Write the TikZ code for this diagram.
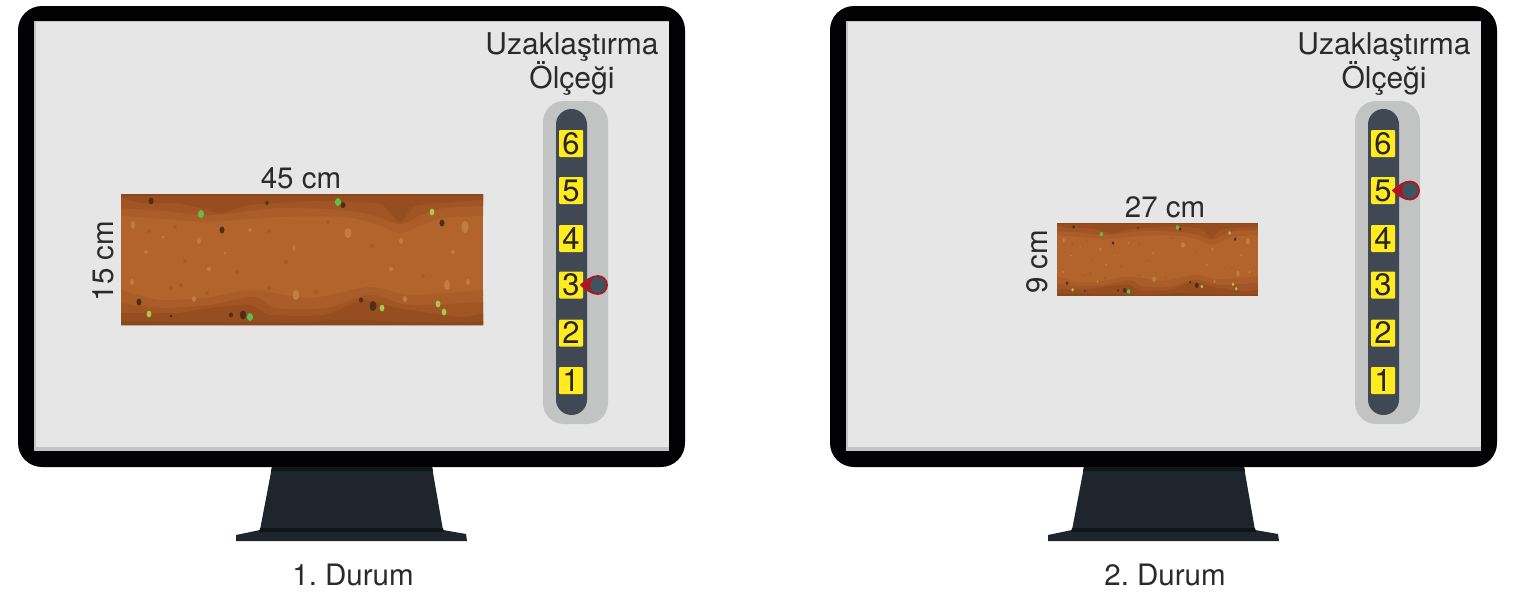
\documentclass[tikz,border=0pt]{standalone}
\usepackage{fontspec}
\setmainfont{TeX Gyre Heros}
\definecolor{soilA}{HTML}{B2642C}
\definecolor{soilB}{HTML}{AA5D28}
\definecolor{soilC}{HTML}{A15424}
\definecolor{soilD}{HTML}{964D1F}
\definecolor{soilE}{HTML}{8A481C}
\definecolor{pebble}{HTML}{4F2E14}
\definecolor{speckLight}{HTML}{BF7E45}
\definecolor{speckDark}{HTML}{A65B27}
\definecolor{leafA}{HTML}{5CC04A}
\definecolor{leafB}{HTML}{A8C850}
\definecolor{frameBlack}{HTML}{020204}
\definecolor{screenGrey}{HTML}{E6E6E6}
\definecolor{standDark}{HTML}{1E252C}
\definecolor{standEdge}{HTML}{10151A}
\definecolor{railOuter}{HTML}{C2C3C3}
\definecolor{railInner}{HTML}{404854}
\definecolor{markRed}{HTML}{B5141E}
\definecolor{markFill}{HTML}{3C5560}
\definecolor{numYellow}{HTML}{FFEB1E}
\definecolor{inkText}{HTML}{2A2A2A}
\tikzset{
  x=1pt,y=-1pt,
  label text/.style={text=inkText,font=\fontsize{29.5}{30}\selectfont,inner sep=0pt,anchor=base},
  head text/.style={label text,font=\fontsize{30}{30}\selectfont},
  number box/.style={fill=numYellow,rounded corners=1pt,minimum width=24pt,minimum height=27pt,
    inner sep=0pt,text=black!85,font=\fontsize{31}{31}\selectfont},
}
% The soil strip, drawn in its own 362 by 131 box
\newcommand{\soilstrip}{%
  \begin{scope}
    \clip (0,0) rectangle (362,131);
    \fill[soilA] (0,0) rectangle (362,131);
    % upper layers, deepest first
    \fill[soilB] plot[smooth,tension=.5] coordinates {(0,22) (45,25) (89,28) (156,23) (222,23) (255,30) (279,39) (300,31) (323,24) (362,22)} -- (362,0) -- (0,0) -- cycle;
    \fill[soilC] plot[smooth,tension=.5] coordinates {(0,14) (45,17) (89,21) (156,14) (222,16) (255,22) (279,30) (300,21) (323,14) (362,12)} -- (362,0) -- (0,0) -- cycle;
    \fill[soilD] plot[smooth,tension=.4] coordinates {(0,4) (22,9) (56,9) (80,14) (100,19) (129,11) (190,7) (256,9) (268,18) (279,28) (288,18) (298,11) (362,6)} -- (362,0) -- (0,0) -- cycle;
    \fill[soilE] (0,0) rectangle (362,2);
    % lower layers
    \fill[soilB] plot[smooth,tension=.5] coordinates {(0,96) (39,106) (89,103) (132,96) (189,104) (249,93) (289,101) (362,96)} -- (362,131) -- (0,131) -- cycle;
    \fill[soilC] plot[smooth,tension=.5] coordinates {(0,109) (39,114) (89,111) (132,103) (155,114) (206,114) (249,101) (289,111) (362,108)} -- (362,131) -- (0,131) -- cycle;
    \fill[soilD] plot[smooth,tension=.4] coordinates {(0,119) (56,119) (89,114) (129,111) (149,121) (203,121) (242,106) (276,114) (340,123) (362,119)} -- (362,131) -- (0,131) -- cycle;
    \fill[soilE] plot[smooth,tension=.5] coordinates {(0,127) (100,128) (172,129) (223,126) (322,129) (362,127)} -- (362,131) -- (0,131) -- cycle;
    % pale and faint grains
    \foreach \px/\py/\rx/\ry in {12/31/2/4,78/47/2/3,129/36/1.5/2,173/54/1.5/3,227/39/3.5/5,280/47/2/3,344/33/3.5/6,25/58/2/1.5,104/59/1.5/1.5,88/75/2/2,270/75/2/2,332/58/2/2,11/88/2/3,73/105/2/3,175/101/3.5/5,284/105/2/3,326/91/3/5,347/88/2/3,42/43/1.5/1.5}
      \fill[speckLight] (\px,\py) ellipse [x radius=\rx,y radius=\ry];
    \foreach \px/\py in {54/33,28/37,148/37,207/28,251/52,64/67,165/68,116/78,302/82,50/94,60/91,86/99,148/94,195/98}
      \fill[speckDark] (\px,\py) circle [radius=2];
    % pebbles
    \foreach \px/\py/\rx/\ry in {30/7/2.5/3.5,146/9/1.6/2,222/11/2.5/3,101/36/2.5/3.5,321/29/2.5/3.5,18/108/2.5/3.5,50/122/1.5/1.5,110/121/2/2.5,122/121/3.2/4.5,240/106/2/2.5,252/112/3.4/5}
      \fill[pebble] (\px,\py) ellipse [x radius=\rx,y radius=\ry];
    % green shoots
    \foreach \px/\py in {217/8,80/20,129/123}
      \fill[leafA] (\px,\py) ellipse [x radius=3,y radius=4];
    \foreach \px/\py in {311/18,28/120,261/114,317/110,323/118}
      \fill[leafB] (\px,\py) ellipse [x radius=2.4,y radius=3.4];
  \end{scope}%
}
% One monitor: #1 prefix for node names, #2 sideways offset, #3 pointer lift
\newcommand{\monitorset}[3]{%
  \begin{scope}[xshift=#2pt]
    \fill[frameBlack,rounded corners=24pt] (18,6) rectangle (685,467);
    \fill[screenGrey!85!black] (34,21) rectangle (669,451);
    \fill[screenGrey] (36,22) rectangle (669,447);
    % stand
    \fill[standDark] (272,467) -- (432,467) -- (443,530) -- (466,534) -- (467,541) -- (236,541) -- (236,535) -- (260,530) -- cycle;
    \fill[standEdge] (272,467) -- (432,467) -- (433,471) -- (271,471) -- cycle;
    \fill[standEdge] (260,528) -- (443,528) -- (444,532) -- (259,532) -- cycle;
    % title of the dial
    \node[head text] (#1title) at (572,54) {Uzaklaştırma};
    \node[head text] (#1sub) at (572,88) {Ölçeği};
    % dial
    \fill[railOuter,rounded corners=21pt] (543,101) rectangle (608,424);
    \fill[railInner,rounded corners=15.4pt] (556,109) rectangle (587,415);
    \node[number box] (#1n6) at (571,143.5) {6};
    \node[number box] (#1n5) at (571,190.5) {5};
    \node[number box] (#1n4) at (571,238.5) {4};
    \node[number box] (#1n3) at (571,285) {3};
    \node[number box] (#1n2) at (571,333) {2};
    \node[number box] (#1n1) at (571,380.5) {1};
    % pointer on the dial
    \begin{scope}[yshift=#3pt]
      \filldraw[draw=markRed,fill=markFill,line width=1.8pt,line join=round]
        (581,285) .. controls (587,280) and (592,276) .. (598,276)
        .. controls (603,276) and (607,280) .. (607,285)
        .. controls (607,290) and (603,294) .. (598,294)
        .. controls (592,294) and (587,290) .. (581,285) -- cycle;
      \fill[markRed] (581,285) -- (592,279.5) -- (590,285) -- (592,290.5) -- cycle;
    \end{scope}
    \node[label text] (#1cap) at (353,585) {#1.\ Durum};
  \end{scope}%
}
\begin{document}
\begin{tikzpicture}
  \useasboundingbox (0,0) rectangle (1520,603);
  \fill[white] (0,0) rectangle (1520,603);
  \monitorset{1}{0}{0}
  \monitorset{2}{812}{94.5}
  % first strip and its sizes
  \begin{scope}[shift={(121,194)}]
    \soilstrip
  \end{scope}
  \node[label text] (widthA) at (301,188) {45 cm};
  \node[label text,rotate=90] (heightA) at (113,261) {15 cm};
  % second strip and its sizes
  \begin{scope}[shift={(1057,223)},xscale=0.555,yscale=0.557]
    \soilstrip
  \end{scope}
  \node[label text] (widthB) at (1165,217) {27 cm};
  \node[label text,rotate=90] (heightB) at (1047,262) {9 cm};
\end{tikzpicture}
\end{document}
